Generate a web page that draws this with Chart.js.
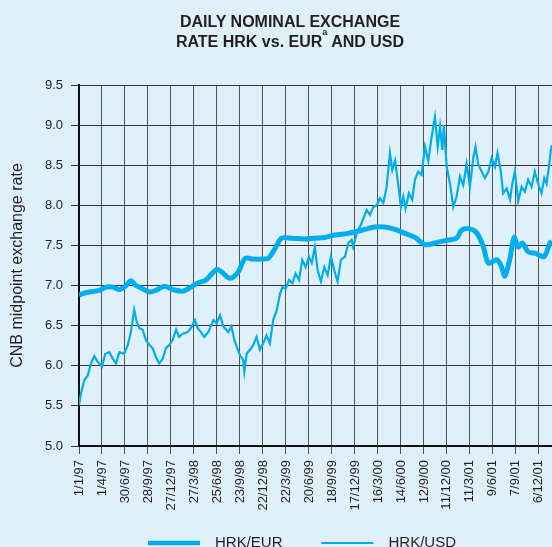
<!DOCTYPE html>
<html>
<head>
<meta charset="utf-8">
<script src="https://cdn.jsdelivr.net/npm/chart.js@4.4.1/dist/chart.umd.min.js"></script>
<style>
  html, body { margin: 0; padding: 0; background: #dff0fa; overflow: hidden; }
  #wrap { position: relative; width: 604px; height: 547px; }
  #title {
    position: absolute; left: 0; top: 12px; width: 580px;
    text-align: center; color: #231f20;
    font: bold 16px "Liberation Sans", Arial, sans-serif; line-height: 20px;
  }
  #title .sup { font-size: 9px; position: relative; top: -12px; }
</style>
</head>
<body>
<div id="wrap">
  <div id="title">DAILY NOMINAL EXCHANGE<br>RATE HRK vs. EUR<span class="sup">a</span> AND USD</div>
  <canvas id="chart"></canvas>
</div>
<script>
// x axis: days counted from 1/1/97, one labelled grid line every 90 days
const tickLabels = ['1/1/97', '1/4/97', '30/6/97', '28/9/97', '27/12/97', '27/3/98', '25/6/98',
  '23/9/98', '22/12/98', '22/3/99', '20/6/99', '18/9/99', '17/12/99', '16/3/00', '14/6/00',
  '12/9/00', '11/12/00', '11/3/01', '9/6/01', '7/9/01', '6/12/01'];
const tickStep = 90;
const dayMax = 2000;

// HRK/EUR
const eurDays = [0, 14, 40, 79, 106, 132, 158, 184, 203, 223,
  249, 275, 301, 334, 367, 406, 438, 464, 497, 539,
  558, 591, 623, 650, 682, 715, 741, 767, 793, 832,
  884, 923, 963, 1002, 1054, 1106, 1158, 1197, 1237, 1276,
  1315, 1354, 1393, 1432, 1478, 1497, 1526, 1556, 1582, 1602,
  1636, 1654, 1667, 1687, 1703, 1719, 1735, 1758, 1788, 1820,
  1843, 1851];
const eurRates = [6.88, 6.90, 6.92, 6.94, 6.98, 6.98, 6.95, 7.00, 7.06, 7.00,
  6.96, 6.92, 6.94, 6.99, 6.95, 6.93, 6.98, 7.03, 7.07, 7.20,
  7.17, 7.09, 7.17, 7.34, 7.33, 7.33, 7.34, 7.46, 7.59, 7.59,
  7.58, 7.59, 7.60, 7.63, 7.65, 7.69, 7.73, 7.73, 7.70, 7.65,
  7.60, 7.51, 7.53, 7.56, 7.59, 7.69, 7.71, 7.66, 7.49, 7.28,
  7.32, 7.23, 7.12, 7.34, 7.60, 7.48, 7.53, 7.42, 7.40, 7.36,
  7.53, 7.55];

// HRK/USD
const usdDays = [0, 8, 21, 34, 47, 60, 73, 90, 103, 119,
  132, 145, 158, 177, 191, 203, 216, 226, 236, 249,
  262, 275, 288, 301, 314, 328, 340, 353, 367, 380,
  392, 406, 425, 438, 454, 464, 477, 490, 506, 526,
  539, 552, 565, 584, 597, 608, 617, 630, 643, 647,
  656, 669, 682, 695, 708, 721, 734, 747, 760, 774,
  787, 796, 809, 822, 835, 848, 861, 874, 887, 900,
  911, 923, 934, 947, 960, 973, 986, 999, 1012, 1025,
  1041, 1054, 1067, 1073, 1087, 1106, 1126, 1139, 1152, 1165,
  1178, 1191, 1204, 1217, 1226, 1237, 1249, 1260, 1269, 1278,
  1291, 1304, 1315, 1328, 1341, 1354, 1367, 1380, 1393, 1404,
  1413, 1422, 1428, 1439, 1452, 1465, 1478, 1491, 1504, 1517,
  1530, 1543, 1552, 1562, 1576, 1589, 1602, 1615, 1628, 1638,
  1651, 1660, 1674, 1687, 1696, 1706, 1719, 1732, 1745, 1758,
  1771, 1784, 1797, 1810, 1821, 1830, 1839, 1847, 1851];
const usdRates = [5.51, 5.66, 5.82, 5.88, 6.03, 6.12, 6.05, 5.99, 6.15, 6.17,
  6.09, 6.03, 6.17, 6.15, 6.26, 6.42, 6.70, 6.55, 6.47, 6.45,
  6.32, 6.26, 6.22, 6.11, 6.03, 6.09, 6.22, 6.26, 6.32, 6.45,
  6.36, 6.40, 6.42, 6.47, 6.57, 6.47, 6.42, 6.36, 6.42, 6.57,
  6.53, 6.63, 6.49, 6.42, 6.49, 6.32, 6.24, 6.13, 6.07, 5.93,
  6.15, 6.20, 6.26, 6.36, 6.20, 6.28, 6.38, 6.28, 6.57, 6.69,
  6.90, 6.98, 6.96, 7.07, 7.03, 7.15, 7.07, 7.32, 7.23, 7.36,
  7.28, 7.48, 7.19, 7.05, 7.23, 7.13, 7.36, 7.19, 7.05, 7.32,
  7.36, 7.53, 7.57, 7.48, 7.65, 7.78, 7.94, 7.88, 7.98, 8.00,
  8.09, 8.03, 8.23, 8.65, 8.44, 8.56, 8.27, 7.98, 8.11, 7.96,
  8.15, 8.07, 8.32, 8.42, 8.38, 8.73, 8.55, 8.85, 9.10, 8.73,
  8.98, 8.69, 9.00, 8.48, 8.27, 7.98, 8.11, 8.36, 8.25, 8.52,
  8.23, 8.59, 8.73, 8.52, 8.42, 8.34, 8.42, 8.59, 8.48, 8.65,
  8.42, 8.15, 8.21, 8.07, 8.27, 8.42, 8.05, 8.23, 8.17, 8.32,
  8.23, 8.42, 8.27, 8.15, 8.34, 8.27, 8.48, 8.69, 8.75];

const lineColor = '#00aeef';
const textColor = '#231f20';
const fontFamily = '"Liberation Sans", Arial, sans-serif';

Chart.defaults.font.family = fontFamily;
Chart.defaults.color = textColor;

const toPoints = (days, rates) => days.map((d, i) => ({ x: d, y: rates[i] }));

// legend under the axis labels: line sample, gap, label (as in the printed chart)
const lineLegend = {
    id: 'lineLegend',
    afterDraw(chart) {
        const ctx = chart.ctx;
        const y = chart.chartArea.bottom + 97;
        let x = 148;
        ctx.save();
        ctx.font = '15px ' + fontFamily;
        ctx.textBaseline = 'middle';
        chart.data.datasets.forEach(ds => {
            ctx.strokeStyle = ds.borderColor;
            ctx.lineWidth = ds.legendWidth;
            ctx.beginPath();
            ctx.moveTo(x, y);
            ctx.lineTo(x + 52, y);
            ctx.stroke();
            x += 52 + 15;
            ctx.fillStyle = textColor;
            ctx.fillText(ds.label, x, y);
            x += ctx.measureText(ds.label).width + 39;
        });
        ctx.restore();
    }
};

new Chart(document.getElementById('chart'), {
    type: 'line',
    data: {
        datasets: [{
            label: 'HRK/EUR',
            data: toPoints(eurDays, eurRates),
            borderColor: lineColor,
            borderWidth: 5,
            legendWidth: 4.5,
            pointRadius: 0,
            tension: 0.3
        }, {
            label: 'HRK/USD',
            data: toPoints(usdDays, usdRates),
            borderColor: lineColor,
            borderWidth: 2.2,
            legendWidth: 2,
            pointRadius: 0,
            tension: 0
        }]
    },
    plugins: [lineLegend],
    options: {
        responsive: true,
        maintainAspectRatio: false,
        animation: false,
        layout: { padding: { top: 85, right: 14, bottom: 0, left: 0 } },
        plugins: {
            title: { display: false },
            tooltip: { enabled: false },
            legend: { display: false }
        },
        scales: {
            x: {
                type: 'linear',
                min: 0,
                max: dayMax,
                afterBuildTicks: scale => {
                    scale.ticks = tickLabels.map((_, i) => ({ value: i * tickStep }));
                },
                afterFit: scale => { scale.height = 101; },
                ticks: {
                    autoSkip: false,
                    minRotation: 90,
                    maxRotation: 90,
                    padding: 6,
                    font: { size: 13 },
                    color: textColor,
                    callback: (value, index) => tickLabels[index]
                },
                grid: { color: '#555', lineWidth: 1, tickLength: 8 },
                border: { color: '#111', width: 2 }
            },
            y: {
                min: 5,
                max: 9.5,
                afterFit: scale => { scale.width = 79; },
                ticks: {
                    stepSize: 0.5,
                    padding: 8,
                    font: { size: 13 },
                    color: textColor,
                    callback: value => value.toFixed(1)
                },
                grid: { color: '#333', lineWidth: 1, tickLength: 8 },
                border: { color: '#111', width: 2 },
                title: {
                    display: true,
                    text: 'CNB midpoint exchange rate',
                    font: { size: 16 },
                    color: textColor,
                    padding: { top: 8, bottom: 0 }
                }
            }
        }
    }
});
</script>
</body>
</html>
